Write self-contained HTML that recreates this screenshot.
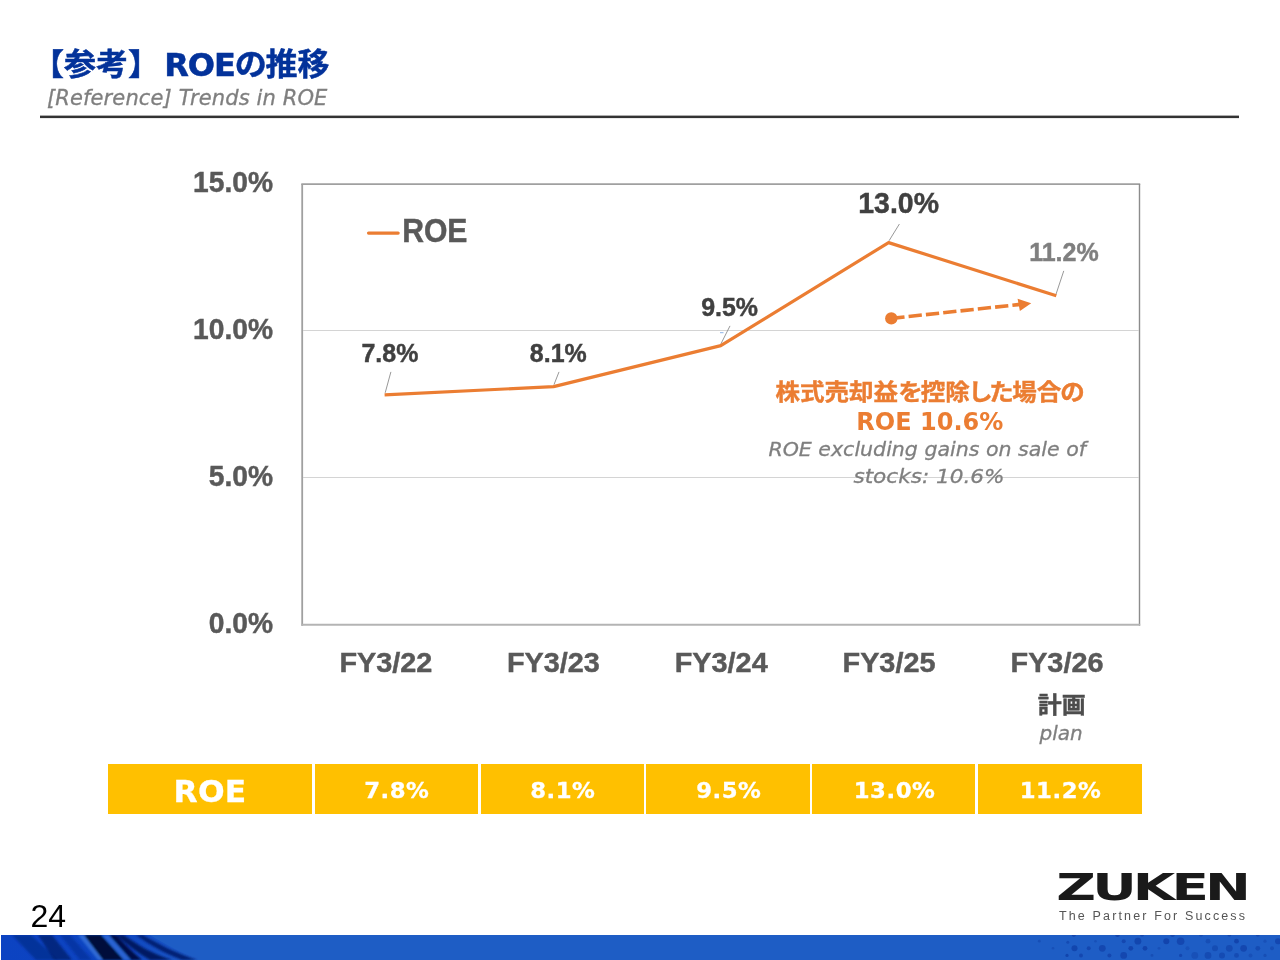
<!DOCTYPE html>
<html lang="ja">
<head>
<meta charset="utf-8">
<title>ROEの推移</title>
<style>
html,body{margin:0;padding:0;background:#fff;}
body{width:1280px;height:960px;position:relative;overflow:hidden;font-family:"Liberation Sans","Noto Sans CJK JP",sans-serif;}
.abs{position:absolute;white-space:nowrap;line-height:1;}
#title{left:32px;top:49.4px;font-size:32px;font-weight:bold;color:#03329a;-webkit-text-stroke:0.5px #03329a;font-family:"DejaVu Sans","Noto Sans CJK JP",sans-serif;}
#title .cj{display:inline-block;transform:translateY(-0.7px) scaleY(0.95);transform-origin:50% 82%;}
#subtitle{left:47px;top:88px;letter-spacing:0.12px;-webkit-text-stroke:0.3px #7f7f7f;font-size:21px;font-style:italic;color:#7f7f7f;font-family:"DejaVu Sans","Liberation Sans",sans-serif;}
#chart{position:absolute;left:0;top:0;width:1280px;height:960px;}
#tbl{position:absolute;left:108px;top:764.25px;height:50px;width:1033.6px;}
.cell{position:absolute;top:0;height:50px;background:#ffc000;color:#fff;font-weight:bold;text-align:center;line-height:50px;font-family:"DejaVu Sans","Liberation Sans",sans-serif;font-size:21.5px;letter-spacing:0.5px;}
.cell span{display:inline-block;position:relative;top:1.7px;left:0.6px;transform:scaleX(1.06);-webkit-text-stroke:0.3px #fff;}
#pageno{left:30.4px;top:899.6px;font-size:32px;color:#000;font-family:"Liberation Sans",sans-serif;}
#footer{position:absolute;left:0;top:935px;width:1280px;height:25px;}
</style>
</head>
<body>
<div id="title" class="abs"><span class="cj">【参考】</span> <span style="margin-left:-7px;letter-spacing:-1px;">ROE</span><span class="cj" style="margin-right:-1.5px;">の</span><span class="cj">推移</span></div>
<div id="subtitle" class="abs">[Reference] Trends in ROE</div>

<svg id="chart" width="1280" height="960" viewBox="0 0 1280 960">
  <rect id="rule" x="40" y="115.6" width="1199" height="2.5" fill="#333"/>
  <g id="plot">
  <rect x="302.2" y="184" width="837.3" height="440.8" fill="#fff"/>
  <line x1="301.3" y1="184.05" x2="1140.2" y2="184.05" stroke="#a0a0a0" stroke-width="1.8"/>
  <line x1="302.2" y1="184" x2="302.2" y2="625.7" stroke="#a0a0a0" stroke-width="1.8"/>
  <line x1="1139.5" y1="184" x2="1139.5" y2="625.7" stroke="#8c8c8c" stroke-width="1.4"/>
  <line x1="303" y1="330.5" x2="1139" y2="330.5" stroke="#d4d4d4" stroke-width="1"/>
  <line x1="303" y1="477.5" x2="1139" y2="477.5" stroke="#d4d4d4" stroke-width="1"/>
  <line x1="301.3" y1="624.8" x2="1140.2" y2="624.8" stroke="#b4b4b4" stroke-width="1.9"/>
  </g>
  <g id="ylabels">
  <text transform="translate(273.0 192.3) scale(0.962 1)" text-anchor="end" font-family="'Liberation Sans',sans-serif" font-weight="bold" font-size="29.3" fill="#595959" stroke="#595959" stroke-width="0.45">15.0%</text>
  <text transform="translate(273.0 339.3) scale(0.962 1)" text-anchor="end" font-family="'Liberation Sans',sans-serif" font-weight="bold" font-size="29.3" fill="#595959" stroke="#595959" stroke-width="0.45">10.0%</text>
  <text transform="translate(273.0 486.3) scale(0.962 1)" text-anchor="end" font-family="'Liberation Sans',sans-serif" font-weight="bold" font-size="29.3" fill="#595959" stroke="#595959" stroke-width="0.45">5.0%</text>
  <text transform="translate(273.0 633.2) scale(0.962 1)" text-anchor="end" font-family="'Liberation Sans',sans-serif" font-weight="bold" font-size="29.3" fill="#595959" stroke="#595959" stroke-width="0.45">0.0%</text>
  </g>
  <g id="xlabels">
  <text transform="translate(385.9 672) scale(1.03 1)" text-anchor="middle" font-family="'Liberation Sans',sans-serif" font-weight="bold" font-size="28" fill="#595959" stroke="#595959" stroke-width="0.45">FY3/22</text>
  <text transform="translate(553.4 672) scale(1.03 1)" text-anchor="middle" font-family="'Liberation Sans',sans-serif" font-weight="bold" font-size="28" fill="#595959" stroke="#595959" stroke-width="0.45">FY3/23</text>
  <text transform="translate(721.2 672) scale(1.03 1)" text-anchor="middle" font-family="'Liberation Sans',sans-serif" font-weight="bold" font-size="28" fill="#595959" stroke="#595959" stroke-width="0.45">FY3/24</text>
  <text transform="translate(889.0 672) scale(1.03 1)" text-anchor="middle" font-family="'Liberation Sans',sans-serif" font-weight="bold" font-size="28" fill="#595959" stroke="#595959" stroke-width="0.45">FY3/25</text>
  <text transform="translate(1057.0 672) scale(1.03 1)" text-anchor="middle" font-family="'Liberation Sans',sans-serif" font-weight="bold" font-size="28" fill="#595959" stroke="#595959" stroke-width="0.45">FY3/26</text>
  </g>
  <g id="leaders" stroke="#8c8c8c" stroke-width="0.9" fill="none">
  <line x1="390.9" y1="371.9" x2="385.2" y2="392.8"/>
  <line x1="559" y1="371.9" x2="554" y2="384.6"/>
  <line x1="730" y1="325.9" x2="720.9" y2="343.9"/>
  <line x1="899.4" y1="224" x2="889.0" y2="240.8"/>
  <line x1="1063.75" y1="270.9" x2="1055.9" y2="294.6"/>
  </g>
  <line x1="720" y1="332.7" x2="723.5" y2="332.7" stroke="#8fb4e8" stroke-width="1"/>
  <polyline id="series" points="384.6,394.9 553.6,386.6 720.8,345.6 888.6,242.6 1056.3,295.8" fill="none" stroke="#eb7d32" stroke-width="3.2" stroke-linejoin="round" stroke-linecap="butt"/>
  <g id="legend">
  <line x1="368.5" y1="233.1" x2="398.2" y2="233.1" stroke="#eb7d32" stroke-width="3.1" stroke-linecap="round"/>
  <text transform="translate(434.8 242.4) scale(0.9 1)" text-anchor="middle" font-family="'Liberation Sans',sans-serif" font-weight="bold" font-size="33.5" fill="#595959" stroke="#595959" stroke-width="0.45">ROE</text>
  </g>
  <g id="dlabels">
  <text transform="translate(389.9 362.3) scale(0.968 1)" text-anchor="middle" font-family="'Liberation Sans',sans-serif" font-weight="bold" font-size="25.8" fill="#404040" stroke="#404040" stroke-width="0.45">7.8%</text>
  <text transform="translate(558.3 362.3) scale(0.968 1)" text-anchor="middle" font-family="'Liberation Sans',sans-serif" font-weight="bold" font-size="25.8" fill="#404040" stroke="#404040" stroke-width="0.45">8.1%</text>
  <text transform="translate(729.6 316.3) scale(0.968 1)" text-anchor="middle" font-family="'Liberation Sans',sans-serif" font-weight="bold" font-size="25.8" fill="#404040" stroke="#404040" stroke-width="0.45">9.5%</text>
  <text transform="translate(898.6 213.1) scale(0.995 1)" text-anchor="middle" font-family="'Liberation Sans',sans-serif" font-weight="bold" font-size="28.6" fill="#404040" stroke="#404040" stroke-width="0.45">13.0%</text>
  <text transform="translate(1063.9 261.0) scale(1.0 1)" text-anchor="middle" font-family="'Liberation Sans',sans-serif" font-weight="bold" font-size="25.0" fill="#7f7f7f" stroke="#7f7f7f" stroke-width="0.45">11.2%</text>
  </g>
  <g id="arrow">
  <circle cx="891.3" cy="318.4" r="6.2" fill="#eb7d32"/>
  <line x1="891.3" y1="318.4" x2="1020" y2="304.4" stroke="#eb7d32" stroke-width="3.6" stroke-dasharray="13.3 4.1"/>
  <polygon points="1031.2,303.2 1017.6,298.8 1019.9,310.9" fill="#eb7d32"/>
  </g>
  <g id="note">
  <text transform="translate(775.6 400.0) scale(1.09 1)" font-family="'DejaVu Sans','Noto Sans CJK JP',sans-serif" font-weight="bold" font-size="22.5" fill="#eb7d32" stroke="#eb7d32" stroke-width="0.4">株式売却益<tspan>を</tspan><tspan dx="-1.8">控除</tspan><tspan dx="-1.4">し</tspan><tspan dx="-3.2">た</tspan><tspan dx="-1.4">場合</tspan><tspan dx="-0.9">の</tspan></text>
  <text transform="translate(929.8 430.3) scale(1.0 1)" text-anchor="middle" font-family="'DejaVu Sans','Liberation Sans',sans-serif" font-weight="bold" font-size="24" fill="#eb7d32">ROE 10.6%</text>
  <text transform="translate(927.2 456.4) scale(1.027 1)" text-anchor="middle" font-family="'DejaVu Sans','Liberation Sans',sans-serif" font-weight="normal" font-style="italic" font-size="20" fill="#7f7f7f" stroke="#7f7f7f" stroke-width="0.3">ROE excluding gains on sale of</text>
  <text transform="translate(929.0 482.9) scale(1.08 1)" text-anchor="middle" font-family="'DejaVu Sans','Liberation Sans',sans-serif" font-weight="normal" font-style="italic" font-size="20" fill="#7f7f7f" stroke="#7f7f7f" stroke-width="0.3">stocks: 10.6%</text>
  </g>
  <g id="plan">
  <text transform="translate(1061.7 712.9) scale(1.075 1)" text-anchor="middle" font-family="'Liberation Sans','Noto Sans CJK JP',sans-serif" font-weight="bold" font-size="22.3" fill="#4d4d4d" stroke="#4d4d4d" stroke-width="0.4">計画</text>
  <text transform="translate(1061.1 740) scale(1.0 1)" text-anchor="middle" font-family="'DejaVu Sans','Liberation Sans',sans-serif" font-weight="normal" font-style="italic" font-size="20" fill="#7f7f7f" stroke="#7f7f7f" stroke-width="0.3">plan</text>
  </g>
</svg>

<div id="tbl">
  <div class="cell" style="left:0;width:203.8px;font-size:30px;letter-spacing:0.3px;"><span style="top:2.6px;left:0.3px;transform:scaleX(1.045);">ROE</span></div>
  <div class="cell" style="left:207px;width:163px;"><span>7.8%</span></div>
  <div class="cell" style="left:372.5px;width:163.3px;"><span>8.1%</span></div>
  <div class="cell" style="left:538.3px;width:163.3px;"><span>9.5%</span></div>
  <div class="cell" style="left:704.1px;width:163.3px;"><span>13.0%</span></div>
  <div class="cell" style="left:870.1px;width:163.5px;"><span>11.2%</span></div>
</div>

<div id="pageno" class="abs">24</div>

<svg id="logo" style="position:absolute;left:1040px;top:860px;" width="230" height="70" viewBox="0 0 230 70">
  <text transform="translate(111.7 39.6) scale(1.44 1)" text-anchor="middle" letter-spacing="-2.7" font-family="'DejaVu Sans','Liberation Sans',sans-serif" font-weight="bold" font-size="38.1" fill="#1a1a1a">ZUKEN</text>
  <text x="19" y="60.2" font-family="'Liberation Sans',sans-serif" font-size="12.5" fill="#555" textLength="186" lengthAdjust="spacing">The Partner For Success</text>
</svg>

<svg id="footer" width="1280" height="25" viewBox="0 0 1280 25">
  <defs>
    <linearGradient id="fg" x1="0" y1="0" x2="1" y2="0">
      <stop offset="0" stop-color="#0c43c2"/><stop offset="0.6" stop-color="#0d45c0"/><stop offset="1" stop-color="#1e5dc5"/>
    </linearGradient>
    <filter id="fb" x="-5%" y="-30%" width="110%" height="160%"><feGaussianBlur stdDeviation="1.1"/></filter>
    <clipPath id="fc"><rect x="1" y="0" width="1279" height="25"/></clipPath>
  </defs>
  <rect x="1" y="0" width="1279" height="25" fill="#1e5dc5"/>
  <g clip-path="url(#fc)">
    <path d="M1,0 L150,0 C165,9 185,20 200,25 L1,25 Z" fill="url(#fg)"/>
    <g filter="url(#fb)">
      <path d="M12,0 L31,0 L58,25 L36,25 Z" fill="#072c8e" opacity="0.75"/>
      <path d="M38,0 L52,0 L72,25 L54,25 Z" fill="#051f70" opacity="0.8"/>
      <path d="M60,0 L70,0 L92,25 L80,25 Z" fill="#072c8e" opacity="0.55"/>
      <path d="M78,0 L84,0 L104,25 L98,25 Z" fill="#3f7be0" opacity="0.7"/>
      <path d="M84,0 L101,0 L124,25 L103,25 Z" fill="#010b3a"/>
      <path d="M102,0 L109,0 L134,25 L124,25 Z" fill="#2f6ad8" opacity="0.8"/>
      <path d="M109,0 L116,0 C124,8 132,17 142,25 L131,25 Z" fill="#010f4a"/>
      <path d="M116,0 L124,0 C136,9 152,19 172,25 L150,25 C138,18 126,9 116,0 Z" fill="#04185e" opacity="0.95"/>
      <path d="M136,0 L143,0 C158,9 178,19 197,25 L182,25 C164,18 148,9 136,0 Z" fill="#061f70" opacity="0.95"/>
    </g>
  </g>
  <g fill="#0f3fa6">
    <circle cx="1039.3" cy="6.2" r="1.4" opacity="0.5"/>
    <circle cx="1067.8" cy="7.2" r="1.5" opacity="0.6"/>
    <circle cx="1074.5" cy="13.3" r="3" opacity="0.75"/>
    <circle cx="1067" cy="20.4" r="1.6" opacity="0.8"/>
    <circle cx="1081" cy="20.4" r="2" opacity="0.7"/>
    <circle cx="1088.7" cy="13.3" r="2" opacity="0.7"/>
    <circle cx="1102.3" cy="13.3" r="3.4" opacity="0.7"/>
    <circle cx="1109.4" cy="20.4" r="2" opacity="0.7"/>
    <circle cx="1123.7" cy="20.4" r="3.4" opacity="0.7"/>
    <circle cx="1123.7" cy="6.2" r="2" opacity="0.7"/>
    <circle cx="1130.8" cy="13.3" r="2.4" opacity="0.8"/>
    <circle cx="1137.9" cy="6.2" r="3.4" opacity="0.75"/>
    <circle cx="1145" cy="13.3" r="2.4" opacity="0.8"/>
    <circle cx="1166.3" cy="6.2" r="3" opacity="0.8"/>
    <circle cx="1180.6" cy="6.2" r="3.8" opacity="0.7"/>
    <circle cx="1180.6" cy="20.4" r="1.6" opacity="0.7"/>
    <circle cx="1194.8" cy="20.4" r="3.4" opacity="0.4"/>
    <circle cx="1208" cy="20.4" r="3.4" opacity="0.6"/>
    <circle cx="1208" cy="6.2" r="2.4" opacity="0.5"/>
    <circle cx="1215" cy="13.3" r="3" opacity="0.55"/>
    <circle cx="1222" cy="20.4" r="3" opacity="0.6"/>
    <circle cx="1229.3" cy="13.3" r="3.4" opacity="0.6"/>
    <circle cx="1236.5" cy="6.2" r="2.4" opacity="0.8"/>
    <circle cx="1236.5" cy="20.4" r="2.4" opacity="0.6"/>
    <circle cx="1243.6" cy="13.3" r="3.4" opacity="0.7"/>
    <circle cx="1257.8" cy="13.3" r="2.4" opacity="0.6"/>
    <circle cx="1278" cy="6.2" r="3" opacity="0.7"/>
    <circle cx="1073.8" cy="-0.5" r="2.2" opacity="0.8"/>
    <circle cx="1117.5" cy="-0.5" r="2.4" opacity="0.8"/>
    <circle cx="1142" cy="-0.5" r="2" opacity="0.7"/>
    <circle cx="1172.5" cy="-0.5" r="2.4" opacity="0.7"/>
    <circle cx="1201" cy="-0.5" r="2" opacity="0.6"/>
    <circle cx="1229.4" cy="-0.5" r="2" opacity="0.7"/>
    <circle cx="1257.8" cy="-0.5" r="2" opacity="0.7"/>
    <circle cx="1053" cy="13.3" r="1.3" opacity="0.4"/>
    <circle cx="1095.5" cy="6.2" r="1.3" opacity="0.4"/>
    <circle cx="1152" cy="20.4" r="1.4" opacity="0.5"/>
    <circle cx="1159" cy="13.3" r="1.4" opacity="0.4"/>
    <circle cx="1187.5" cy="13.3" r="2" opacity="0.35"/>
    <circle cx="1250.5" cy="20.4" r="2" opacity="0.4"/>
    <circle cx="1265" cy="20.4" r="1.6" opacity="0.5"/>
    <circle cx="1272" cy="13.3" r="2" opacity="0.5"/>
    <circle cx="1265" cy="6.2" r="1.6" opacity="0.4"/>
  </g>
</svg>
</body>
</html>
